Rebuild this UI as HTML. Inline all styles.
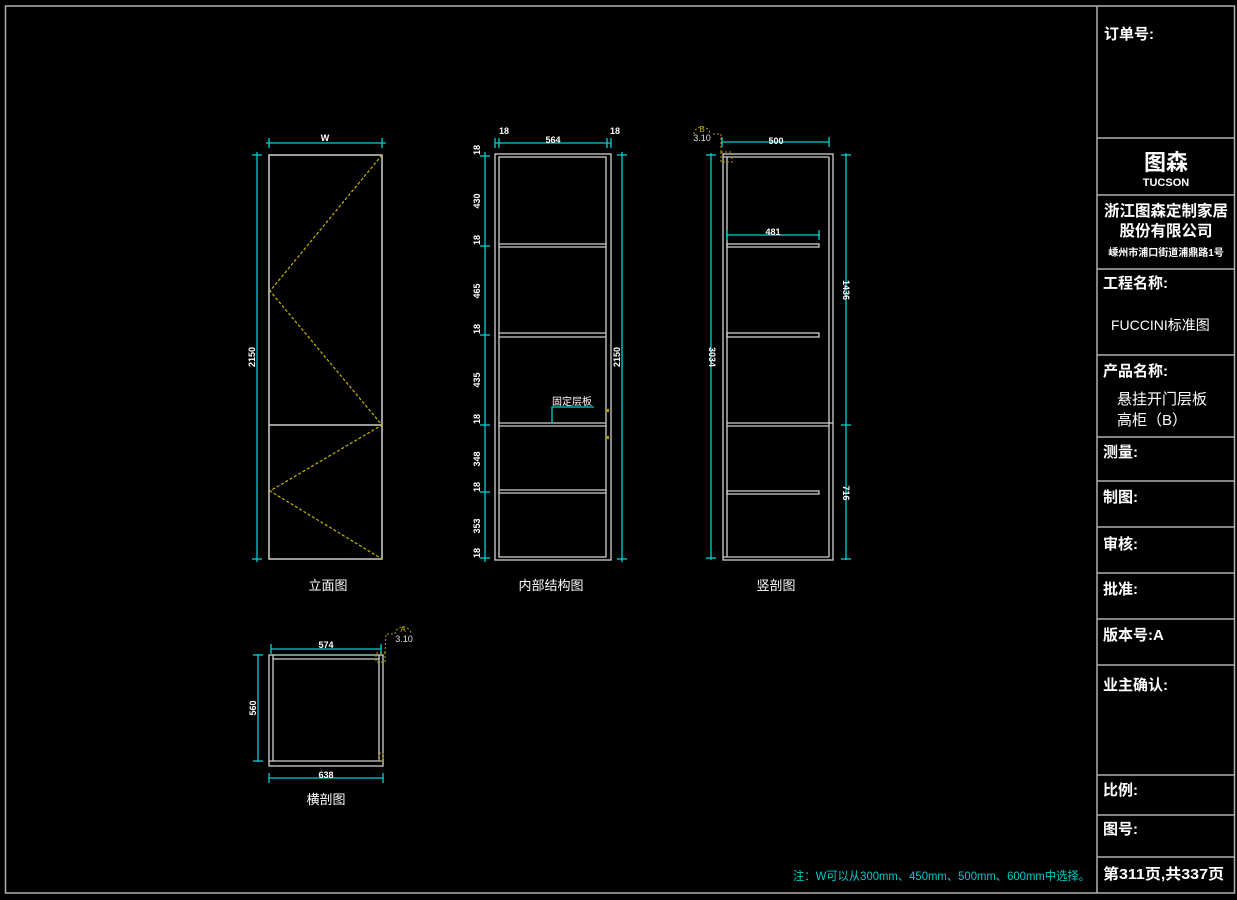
<!DOCTYPE html>
<html><head><meta charset="utf-8"><style>
html,body{margin:0;padding:0;background:#000;width:1237px;height:900px;overflow:hidden}
svg{display:block}
text{font-family:"Liberation Sans","Noto Sans CJK SC",sans-serif}
.w{fill:#fff}
.c{fill:#fff;font-size:9px;font-weight:bold}
</style></head><body>
<svg width="1237" height="900" viewBox="0 0 1237 900" xmlns="http://www.w3.org/2000/svg">
<!-- frame -->
<rect x="5.5" y="6" width="1229" height="887" fill="none" stroke="#b0b0b0" stroke-width="1.5"/>
<line x1="1097" y1="6" x2="1097" y2="893" stroke="#b0b0b0" stroke-width="1.5"/>
<g stroke="#b0b0b0" stroke-width="1.5">
<line x1="1097" y1="138" x2="1234" y2="138"/>
<line x1="1097" y1="195" x2="1234" y2="195"/>
<line x1="1097" y1="269" x2="1234" y2="269"/>
<line x1="1097" y1="355" x2="1234" y2="355"/>
<line x1="1097" y1="437" x2="1234" y2="437"/>
<line x1="1097" y1="481" x2="1234" y2="481"/>
<line x1="1097" y1="527" x2="1234" y2="527"/>
<line x1="1097" y1="573" x2="1234" y2="573"/>
<line x1="1097" y1="619" x2="1234" y2="619"/>
<line x1="1097" y1="665" x2="1234" y2="665"/>
<line x1="1097" y1="775" x2="1234" y2="775"/>
<line x1="1097" y1="815" x2="1234" y2="815"/>
<line x1="1097" y1="857" x2="1234" y2="857"/>
</g>
<g class="w" font-weight="bold" font-size="15">
<text x="1104" y="39">订单号:</text>
<text x="1166" y="170" text-anchor="middle" font-size="22">图森</text>
<text x="1166" y="186" text-anchor="middle" font-size="11">TUCSON</text>
<text x="1166" y="216" text-anchor="middle" font-size="15.5">浙江图森定制家居</text>
<text x="1166" y="236" text-anchor="middle" font-size="15.5">股份有限公司</text>
<text x="1166" y="256" text-anchor="middle" font-size="10">嵊州市浦口街道浦鼎路1号</text>
<text x="1103" y="288">工程名称:</text>
<text x="1111" y="330" font-weight="normal" font-size="14" font-family="Liberation Serif,Noto Serif CJK SC,serif">FUCCINI标准图</text>
<text x="1103" y="376">产品名称:</text>
<text x="1117" y="404" font-weight="normal">悬挂开门层板</text>
<text x="1117" y="425" font-weight="normal">高柜（B）</text>
<text x="1103" y="457">测量:</text>
<text x="1103" y="502">制图:</text>
<text x="1103" y="549">审核:</text>
<text x="1103" y="594">批准:</text>
<text x="1103" y="640">版本号:A</text>
<text x="1103" y="690">业主确认:</text>
<text x="1103" y="795">比例:</text>
<text x="1103" y="834">图号:</text>
<text x="1103" y="879" font-size="15" textLength="121" lengthAdjust="spacingAndGlyphs">第311页,共337页</text>
</g>
<text x="793" y="880" fill="#00c8c8" font-size="12" textLength="297" lengthAdjust="spacingAndGlyphs">注：W可以从300mm、450mm、500mm、600mm中选择。</text>

<!-- elevation 立面图 -->
<g fill="none" stroke="#d0d0d0" stroke-width="1.5">
<rect x="269" y="155" width="113" height="404"/>
<line x1="269" y1="425" x2="382" y2="425"/>
</g>
<polyline points="382,155 270,291 382,425 270,491 382,559" fill="none" stroke="#c8b400" stroke-width="1.2" stroke-dasharray="3,2"/>
<g stroke="#00d0d0" stroke-width="1.3" fill="none">
<line x1="266" y1="143" x2="386" y2="143"/><line x1="269" y1="138" x2="269" y2="148"/><line x1="382" y1="138" x2="382" y2="148"/>
<line x1="257" y1="152" x2="257" y2="562"/><line x1="252" y1="155" x2="262" y2="155"/><line x1="252" y1="559" x2="262" y2="559"/>
</g>
<text class="c" x="325" y="141" text-anchor="middle">W</text>
<text class="c" transform="translate(255,357) rotate(-90)" text-anchor="middle">2150</text>
<text class="w" x="328" y="590" text-anchor="middle" font-size="13">立面图</text>

<!-- internal 内部结构图 -->
<g fill="none" stroke="#d0d0d0" stroke-width="1.3">
<rect x="495" y="154" width="116" height="406"/>
<rect x="499" y="157" width="107" height="400"/>
<line x1="499" y1="244" x2="606" y2="244"/><line x1="499" y1="247" x2="606" y2="247"/>
<line x1="499" y1="333" x2="606" y2="333"/><line x1="499" y1="337" x2="606" y2="337"/>
<line x1="499" y1="423" x2="606" y2="423"/><line x1="499" y1="426" x2="606" y2="426"/>
<line x1="499" y1="490" x2="606" y2="490"/><line x1="499" y1="493" x2="606" y2="493"/>
</g>
<g stroke="#00d0d0" stroke-width="1.3" fill="none">
<line x1="495" y1="143" x2="611" y2="143"/><line x1="495" y1="138" x2="495" y2="148"/><line x1="499" y1="138" x2="499" y2="148"/><line x1="607" y1="138" x2="607" y2="148"/><line x1="611" y1="138" x2="611" y2="148"/>
<line x1="485" y1="152" x2="485" y2="562"/>
<line x1="622" y1="152" x2="622" y2="562"/><line x1="617" y1="155" x2="627" y2="155"/><line x1="617" y1="559" x2="627" y2="559"/>
<line x1="480" y1="156" x2="490" y2="156"/><line x1="480" y1="246" x2="490" y2="246"/><line x1="480" y1="335" x2="490" y2="335"/><line x1="480" y1="425" x2="490" y2="425"/><line x1="480" y1="492" x2="490" y2="492"/><line x1="480" y1="558" x2="490" y2="558"/>
<polyline points="552,423 552,407 594,407"/>
</g>
<text class="c" x="504" y="134" text-anchor="middle">18</text>
<text class="c" x="553" y="143" text-anchor="middle">564</text>
<text class="c" x="615" y="134" text-anchor="middle">18</text>
<g class="c" font-size="8">
<text transform="translate(480,150) rotate(-90)" text-anchor="middle">18</text>
<text transform="translate(480,201) rotate(-90)" text-anchor="middle">430</text>
<text transform="translate(480,240) rotate(-90)" text-anchor="middle">18</text>
<text transform="translate(480,291) rotate(-90)" text-anchor="middle">465</text>
<text transform="translate(480,329) rotate(-90)" text-anchor="middle">18</text>
<text transform="translate(480,380) rotate(-90)" text-anchor="middle">435</text>
<text transform="translate(480,419) rotate(-90)" text-anchor="middle">18</text>
<text transform="translate(480,459) rotate(-90)" text-anchor="middle">348</text>
<text transform="translate(480,487) rotate(-90)" text-anchor="middle">18</text>
<text transform="translate(480,526) rotate(-90)" text-anchor="middle">353</text>
<text transform="translate(480,553) rotate(-90)" text-anchor="middle">18</text>
<text transform="translate(620,357) rotate(-90)" text-anchor="middle">2150</text>
</g>
<text class="w" x="552" y="405" font-size="10">固定层板</text>
<rect x="606" y="409" width="3" height="3" fill="#b0a000"/><rect x="606" y="436" width="3" height="3" fill="#b0a000"/>
<text class="w" x="551" y="590" text-anchor="middle" font-size="13">内部结构图</text>

<!-- section 竖剖图 -->
<g fill="none" stroke="#d0d0d0" stroke-width="1.3">
<rect x="723" y="154" width="110" height="406"/>
<line x1="727" y1="157" x2="727" y2="557"/>
<line x1="829" y1="157" x2="829" y2="557"/>
<line x1="723" y1="157" x2="829" y2="157"/><line x1="723" y1="557" x2="829" y2="557"/>
<rect x="727" y="244" width="92" height="3"/>
<rect x="727" y="333" width="92" height="4"/>
<line x1="727" y1="423" x2="833" y2="423"/><line x1="727" y1="426" x2="829" y2="426"/>
<rect x="727" y="491" width="92" height="3"/>
</g>
<g stroke="#00d0d0" stroke-width="1.3" fill="none">
<line x1="722" y1="142" x2="830" y2="142"/><line x1="722" y1="137" x2="722" y2="147"/><line x1="829" y1="137" x2="829" y2="147"/>
<line x1="726" y1="235" x2="820" y2="235"/><line x1="727" y1="230" x2="727" y2="240"/><line x1="819" y1="230" x2="819" y2="240"/>
<line x1="711" y1="153" x2="711" y2="560"/><line x1="706" y1="155" x2="716" y2="155"/><line x1="706" y1="558" x2="716" y2="558"/>
<line x1="846" y1="153" x2="846" y2="560"/><line x1="841" y1="155" x2="851" y2="155"/><line x1="841" y1="425" x2="851" y2="425"/><line x1="841" y1="559" x2="851" y2="559"/>
</g>
<text class="c" x="776" y="144" text-anchor="middle">500</text>
<text class="c" x="773" y="235" text-anchor="middle">481</text>
<text class="c" transform="translate(709,357) rotate(90)" text-anchor="middle">3034</text>
<text class="c" transform="translate(843,290) rotate(90)" text-anchor="middle">1436</text>
<text class="c" transform="translate(843,493) rotate(90)" text-anchor="middle">716</text>
<g fill="none" stroke="#b0a000" stroke-width="1" stroke-dasharray="2,2">
<rect x="721" y="152" width="11" height="10"/><polyline points="721,152 721,134 712,134"/>
<path d="M694,134 a8,7 0 0 1 16,0"/>
</g>
<text x="702" y="132" fill="#c0b000" font-size="8" text-anchor="middle">B</text>
<text x="702" y="141" fill="#e0e0e0" font-size="9" text-anchor="middle">3.10</text>
<text class="w" x="776" y="590" text-anchor="middle" font-size="13">竖剖图</text>

<!-- cross section 横剖图 -->
<g fill="none" stroke="#d0d0d0" stroke-width="1.3">
<rect x="269" y="655" width="114" height="111"/>
<line x1="273" y1="655" x2="273" y2="761"/>
<line x1="379" y1="655" x2="379" y2="761"/>
<line x1="273" y1="659" x2="379" y2="659"/>
<line x1="269" y1="761" x2="383" y2="761"/>
</g>
<g stroke="#00d0d0" stroke-width="1.3" fill="none">
<line x1="271" y1="649" x2="381" y2="649"/><line x1="271" y1="644" x2="271" y2="654"/><line x1="381" y1="644" x2="381" y2="654"/>
<line x1="269" y1="778" x2="383" y2="778"/><line x1="269" y1="773" x2="269" y2="783"/><line x1="383" y1="773" x2="383" y2="783"/>
<line x1="258" y1="654" x2="258" y2="762"/><line x1="253" y1="655" x2="263" y2="655"/><line x1="253" y1="761" x2="263" y2="761"/>
</g>
<text class="c" x="326" y="648" text-anchor="middle">574</text>
<text class="c" x="326" y="778" text-anchor="middle">638</text>
<text class="c" transform="translate(256,708) rotate(-90)" text-anchor="middle">560</text>
<g fill="none" stroke="#b0a000" stroke-width="1" stroke-dasharray="2,2">
<rect x="376" y="653" width="9" height="9"/><polyline points="385,653 386,634 395,634"/>
<path d="M395,634 a8,7 0 0 1 16,0"/>
<rect x="379" y="753" width="4" height="8"/>
</g>
<text x="403" y="632" fill="#c0b000" font-size="8" text-anchor="middle">A</text>
<text x="404" y="642" fill="#e0e0e0" font-size="9" text-anchor="middle">3.10</text>
<text class="w" x="326" y="804" text-anchor="middle" font-size="13">横剖图</text>
</svg>
</body></html>
